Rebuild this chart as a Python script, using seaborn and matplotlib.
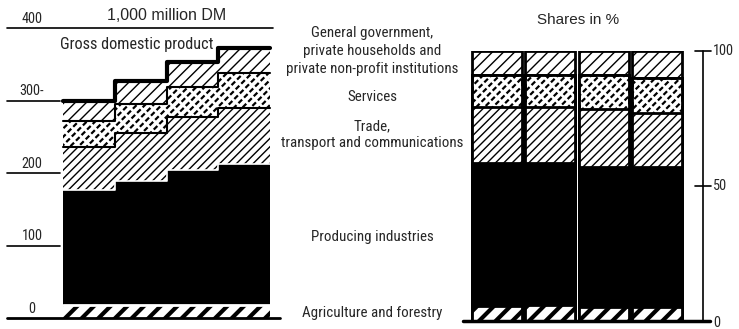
import matplotlib
matplotlib.use("Agg")
import matplotlib.pyplot as plt
from matplotlib import font_manager
import seaborn as sns
import pandas as pd

# ---- data -------------------------------------------------------------
periods = ["I", "II", "III", "IV"]

# Gross value added by sector, 1,000 million DM
agri_abs = [18, 18, 18, 18]
prod_abs = [158, 171, 186, 194]
trade_abs = [60, 66, 73, 78]
serv_abs = [36, 40, 42, 48]
govt_abs = [28, 32, 34, 34]

# Shares in %
agri_pct = [5.6, 5.8, 5.1, 5.1]
prod_pct = [52.8, 52.8, 52.1, 52.1]
trade_pct = [20.9, 20.7, 21.4, 19.9]
serv_pct = [11.8, 11.8, 12.5, 13.0]
govt_pct = [8.9, 8.9, 8.9, 9.9]

left_ticks = [0, 100, 200, 300, 400]
left_tick_text = ["0", "100", "200", "300-", "400"]
right_ticks = [0, 50, 100]

sector_labels = [
    ("General government,", 33),
    ("private households and", 51),
    ("private non-profit institutions", 69),
    ("Services", 97),
    ("Trade,", 126),
    ("transport and communications", 143),
    ("Producing industries", 237),
    ("Agriculture and forestry", 313),
]

# ---- fonts ------------------------------------------------------------
sns.set_style("white")

_fonts = font_manager.fontManager.ttflist
_names = {f.name for f in _fonts}


def pick_narrow_font():
    """Return (family, stretch, size factor) for a condensed sans face."""
    if "Liberation Sans Narrow" in _names:
        return "Liberation Sans Narrow", "normal", 1.22
    if "Roboto Condensed" in _names:
        return "Roboto Condensed", "normal", 1.15
    if any(f.name == "DejaVu Sans" and f.stretch in ("condensed", 500,
                                                        "semi-condensed")
           for f in _fonts):
        return "DejaVu Sans", "condensed", 1.0
    return "Liberation Sans", "normal", 1.0


NARROW, STRETCH, K = pick_narrow_font()
plt.rcParams["font.family"] = [NARROW, "DejaVu Sans"]
plt.rcParams["font.stretch"] = STRETCH
WIDE = ["Liberation Sans", "DejaVu Sans"]

SIZE_MID = 9.4 * K
SIZE_GDP = 10.2 * K
SIZE_TICK = 8.9 * K

W, H = 739, 329
fig = plt.figure(figsize=(W / 100, H / 100), dpi=100)


def fx(px):
    return px / W


def fy(py):
    return 1 - py / H


# hatch per layer: (hatch, hatch linewidth, fill colour)
styles = {
    "agri": ("//", 3.0, "white"),
    "prod": (None, 1.0, "black"),
    "trade": ("////", 1.0, "white"),
    "serv": ("////", 1.6, "white"),
    "govt": ("///", 1.0, "white"),
}
SERV_GAP = 2.0  # width of the white strokes that cut the services lines


def apply_hatch_lw(artist, lw):
    if hasattr(artist, "set_hatch_linewidth"):
        artist.set_hatch_linewidth(lw)


# ---- left panel: absolute values as stepped areas ---------------------
ax1 = fig.add_axes([0, 11 / H, 290 / W, 290 / H])
ax1.set_xlim(-63 / 51.75, (290 - 63) / 51.75)
ax1.set_ylim(0, 400)
ax1.axis("off")

layers_abs = [("agri", agri_abs), ("prod", prod_abs), ("trade", trade_abs),
              ("serv", serv_abs), ("govt", govt_abs)]
edges = list(range(len(periods) + 1))
lower = [0] * len(periods)
tops = []
for name, vals in layers_abs:
    upper = [lo + v for lo, v in zip(lower, vals)]
    hatch, hlw, fc = styles[name]
    with plt.rc_context({"hatch.linewidth": hlw}):
        coll = ax1.fill_between(edges, lower + [lower[-1]], upper + [upper[-1]],
                                step="post", facecolor=fc, edgecolor="black",
                                hatch=hatch, linewidth=0)
        apply_hatch_lw(coll, hlw)
    if name == "serv":
        # break the diagonal lines into short dashes
        with plt.rc_context({"hatch.linewidth": SERV_GAP}):
            c2 = ax1.fill_between(edges, lower + [lower[-1]], upper + [upper[-1]],
                                  step="post", facecolor="none", edgecolor="white",
                                  hatch="\\\\\\", linewidth=0)
            apply_hatch_lw(c2, SERV_GAP)
    tops.append((name, upper))
    lower = upper

for name, upper in tops:
    if name in ("prod", "agri"):
        ax1.step(edges, upper + [upper[-1]], where="post", color="white",
                 lw=1.2 if name == "prod" else 2.0, zorder=4)
        continue
    lw = 3.0 if name == "govt" else 1.5
    ax1.step(edges, upper + [upper[-1]], where="post", color="black",
             lw=lw, zorder=5)

# axis lines and labels
x_left = (7 - 63) / 51.75
x_short = (60 - 63) / 51.75
for val, txt in zip(left_ticks, left_tick_text):
    if val == 400:
        xe = (273 - 63) / 51.75
    elif val == 0:
        xe = (280 - 63) / 51.75
    else:
        xe = x_short
    ax1.plot([x_left, xe], [val, val], color="black",
             lw=2.0 if val == 0 else 1.2, clip_on=False, zorder=6)
    ax1.text((32 - 63) / 51.75, val + 3, txt, ha="center", va="bottom",
             fontsize=SIZE_TICK, clip_on=False)

fig.text(fx(167), fy(15), "1,000 million DM", ha="center", va="center",
         fontsize=11.5, family=WIDE, stretch="normal")
fig.text(fx(60), fy(44), "Gross domestic product", ha="left", va="center",
         fontsize=SIZE_GDP)

# ---- sector labels -----------------------------------------------------
for txt, py in sector_labels:
    fig.text(fx(372), fy(py), txt, ha="center", va="center",
             fontsize=SIZE_MID)

# ---- right panel: shares as stacked bars ------------------------------
ax2 = fig.add_axes([460 / W, 8 / H, 279 / W, 270 / H])
layers_pct = [("agri", agri_pct), ("prod", prod_pct), ("trade", trade_pct),
              ("serv", serv_pct), ("govt", govt_pct)]
cum = []
running = [0] * len(periods)
for name, vals in layers_pct:
    running = [r + v for r, v in zip(running, vals)]
    cum.append((name, running))

# draw from the top level down so lower segments sit in front
for name, heights in reversed(cum):
    hatch, hlw, fc = styles[name]
    df = pd.DataFrame({"period": periods, "share": heights})
    n_before = len(ax2.patches)
    with plt.rc_context({"hatch.linewidth": hlw}):
        sns.barplot(data=df, x="period", y="share", color=fc, saturation=1,
                    width=0.94, edgecolor="black", linewidth=2.0,
                    hatch=hatch, errorbar=None, ax=ax2)
    for p in ax2.patches[n_before:]:
        p.set_facecolor(fc)
        apply_hatch_lw(p, hlw)
    if name == "serv":
        with plt.rc_context({"hatch.linewidth": SERV_GAP}):
            n2 = len(ax2.patches)
            sns.barplot(data=df, x="period", y="share", color="white",
                        saturation=1, width=0.94, edgecolor="white",
                        linewidth=0, hatch="\\\\\\", errorbar=None, ax=ax2)
            for p in ax2.patches[n2:]:
                p.set_facecolor("none")
                apply_hatch_lw(p, SERV_GAP)
        # outline of the services segment on top of the dash overlay
        n3 = len(ax2.patches)
        sns.barplot(data=df, x="period", y="share", color="white",
                    saturation=1, width=0.94, edgecolor="black",
                    linewidth=2.0, errorbar=None, ax=ax2)
        for p in ax2.patches[n3:]:
            p.set_facecolor("none")

ax2.set_xlim((460 - 497) / 53.3, (739 - 497) / 53.3)
ax2.set_ylim(0, 100)
ax2.axis("off")

x_axis = (703 - 497) / 53.3
ax2.plot([x_axis, x_axis], [0, 100], color="black", lw=1.2, clip_on=False)
for t in right_ticks:
    if t > 0:
        ax2.plot([x_axis - 0.15, x_axis + 0.15], [t, t], color="black",
                 lw=1.2, clip_on=False)
    ax2.text(x_axis + 0.19, -0.9 if t == 0 else t, str(t), ha="left",
             va="center", fontsize=SIZE_TICK, clip_on=False)
ax2.plot([(463 - 497) / 53.3, (710 - 497) / 53.3], [0, 0], color="black",
         lw=2.5, clip_on=False, zorder=6)
ax2.text(1.52, 111.5, "Shares in %", ha="center", va="center", fontsize=11,
         family=WIDE, stretch="normal", clip_on=False)

fig.savefig("out.png", dpi=100)
